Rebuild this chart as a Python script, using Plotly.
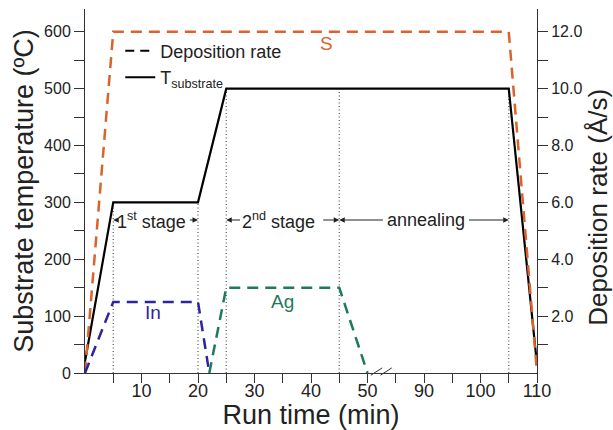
import plotly.graph_objects as go

# ---------------- data ----------------
t_temp = [0, 5, 20, 25, 105, 110]
temp = [20, 300, 300, 500, 500, 15]

t_S = [0, 5, 105, 110]
rate_S = [0, 12.0, 12.0, 0]

t_In = [0, 5, 20, 22]
rate_In = [0, 2.5, 2.5, 0]

t_Ag = [22, 25, 45, 50]
rate_Ag = [0, 3.0, 3.0, 0]

stage_times = [5, 20, 25, 45, 105]
stage_temps = [300, 300, 500, 500, 500]

x_major = [10, 20, 30, 40, 50, 90, 100, 110]
x_minor = [5, 15, 25, 35, 45, 85, 95, 105]
left_major = [0, 100, 200, 300, 400, 500, 600]
left_minor = [50, 150, 250, 350, 450, 550]
right_major = [2, 4, 6, 8, 10, 12]
right_minor = [1, 3, 5, 7, 9, 11]

stage_labels = ["1<sup>st</sup> stage", "2<sup>nd</sup> stage", "annealing"]
stage_label_t = [11.8, 34.3, 90.3]
arrow_tips = [5, 20, 25, 45, 45, 105]
arrow_tails = [5.9, 18.3, 27.7, 41.9, 83.0, 97.7]
stage_level = 269

# axis break: 50 -> 80 min removed
BREAK_LO, BREAK_HI = 50, 80


def bx(t):
    return t if t <= BREAK_LO else t - (BREAK_HI - BREAK_LO)


def bxs(ts):
    return [bx(t) for t in ts]


ORANGE = "#D8632C"
BLUE = "#2F249E"
GREEN = "#1D7A5B"
FONT = "Liberation Sans, Arial, sans-serif"
DASH = "11px,7px"

fig = go.Figure()

# dotted stage boundaries
for t, v in zip(stage_times, stage_temps):
    fig.add_trace(go.Scatter(x=[bx(t), bx(t)], y=[0, v], mode="lines",
                             line=dict(color="#555", width=1.2, dash="1px,2.5px"),
                             showlegend=False, hoverinfo="skip"))

# deposition rates (right axis)
fig.add_trace(go.Scatter(x=bxs(t_S), y=rate_S, yaxis="y2", mode="lines",
                         line=dict(color=ORANGE, width=2.5, dash=DASH), showlegend=False))
fig.add_trace(go.Scatter(x=bxs(t_In), y=rate_In, yaxis="y2", mode="lines",
                         line=dict(color=BLUE, width=2.5, dash=DASH), showlegend=False))
fig.add_trace(go.Scatter(x=bxs(t_Ag), y=rate_Ag, yaxis="y2", mode="lines",
                         line=dict(color=GREEN, width=2.5, dash=DASH), showlegend=False))

# substrate temperature
fig.add_trace(go.Scatter(x=bxs(t_temp), y=temp, mode="lines",
                         line=dict(color="black", width=2.2), showlegend=False))

# legend entries
fig.add_trace(go.Scatter(x=[None], y=[None], mode="lines", name="Deposition rate",
                         line=dict(color="black", width=2, dash="9px,6px")))
fig.add_trace(go.Scatter(x=[None], y=[None], mode="lines", name="T<sub>substrate</sub>",
                         line=dict(color="black", width=2)))

annotations = []
# series labels
annotations.append(dict(x=bx(42.8), y=580, text="S", showarrow=False,
                        font=dict(color=ORANGE, size=19, family=FONT)))
annotations.append(dict(x=bx(12), y=107, text="In", showarrow=False,
                        font=dict(color=BLUE, size=19, family=FONT)))
annotations.append(dict(x=bx(35), y=125, text="Ag", showarrow=False,
                        font=dict(color=GREEN, size=19, family=FONT)))

for lab, t in zip(stage_labels, stage_label_t):
    annotations.append(dict(x=bx(t), y=stage_level, text=lab, showarrow=False,
                            font=dict(color="#222", size=18, family=FONT)))
for tip, tail in zip(arrow_tips, arrow_tails):
    annotations.append(dict(x=bx(tip), y=stage_level, ax=bx(tail), ay=stage_level,
                            axref="x", ayref="y", xref="x", yref="y", text="",
                            showarrow=True, arrowhead=2, arrowsize=1.1, arrowwidth=1,
                            arrowcolor="#222", standoff=0, startstandoff=0))

# right axis title (placed slightly below centre, as in the reference)
annotations.append(dict(xref="paper", yref="paper", x=1.136, y=0.455,
                        text="Deposition rate (Å/s)", textangle=-90, showarrow=False,
                        xanchor="center", yanchor="middle",
                        font=dict(size=26, family=FONT, color="#222")))

# axis-break marks
x_range = [0, bx(110)]
span = x_range[1] - x_range[0]
shapes = []
for off in [0.0, 1.7]:
    x0 = BREAK_LO + 0.6 + off
    shapes.append(dict(type="line", xref="paper", yref="paper",
                       x0=(x0 - x_range[0]) / span, y0=-0.006,
                       x1=(x0 + 2.0 - x_range[0]) / span, y1=0.014,
                       line=dict(color="#333", width=1)))

fig.update_layout(
    width=613, height=430,
    margin=dict(l=85, r=76, t=9, b=57),
    paper_bgcolor="white", plot_bgcolor="white",
    font=dict(family=FONT, color="#222"),
    showlegend=True,
    legend=dict(x=0.078, y=0.935, xanchor="left", yanchor="top",
                bgcolor="rgba(0,0,0,0)", font=dict(size=18, family=FONT),
                tracegroupgap=0, itemwidth=30),
    xaxis=dict(range=x_range, showline=True, linecolor="#333", linewidth=1,
               ticks="outside", ticklen=9, tickcolor="#333",
               tickvals=[bx(v) for v in x_major], ticktext=[str(v) for v in x_major],
               minor=dict(tickvals=[bx(v) for v in x_minor], ticks="outside",
                          ticklen=9, tickcolor="#333", showgrid=False),
               tickfont=dict(size=18), ticklabelstandoff=-8,
               showgrid=False, zeroline=False,
               title=dict(text="Run time (min)", font=dict(size=27), standoff=0),
               automargin=False),
    yaxis=dict(range=[0, 640], showline=True, linecolor="#333", linewidth=1,
               ticks="outside", ticklen=10, tickcolor="#333",
               tickvals=left_major, ticktext=[str(v) for v in left_major],
               minor=dict(tickvals=left_minor, ticks="outside", ticklen=10,
                          tickcolor="#333", showgrid=False),
               tickfont=dict(size=16),
               showgrid=False, zeroline=False,
               title=dict(text="Substrate temperature (ºC)", font=dict(size=27), standoff=2),
               automargin=False),
    yaxis2=dict(range=[0, 12.8], overlaying="y", side="right", anchor="x",
                showline=True, linecolor="#333", linewidth=1,
                ticks="outside", ticklen=10, tickcolor="#333",
                tickvals=right_major, ticktext=[f"{v:.1f}" for v in right_major],
                minor=dict(tickvals=right_minor, ticks="outside", ticklen=10,
                           tickcolor="#333", showgrid=False),
                tickfont=dict(size=16),
                showgrid=False, zeroline=False,
                automargin=False),
    annotations=annotations,
    shapes=shapes,
)

fig.write_html("out.html")
